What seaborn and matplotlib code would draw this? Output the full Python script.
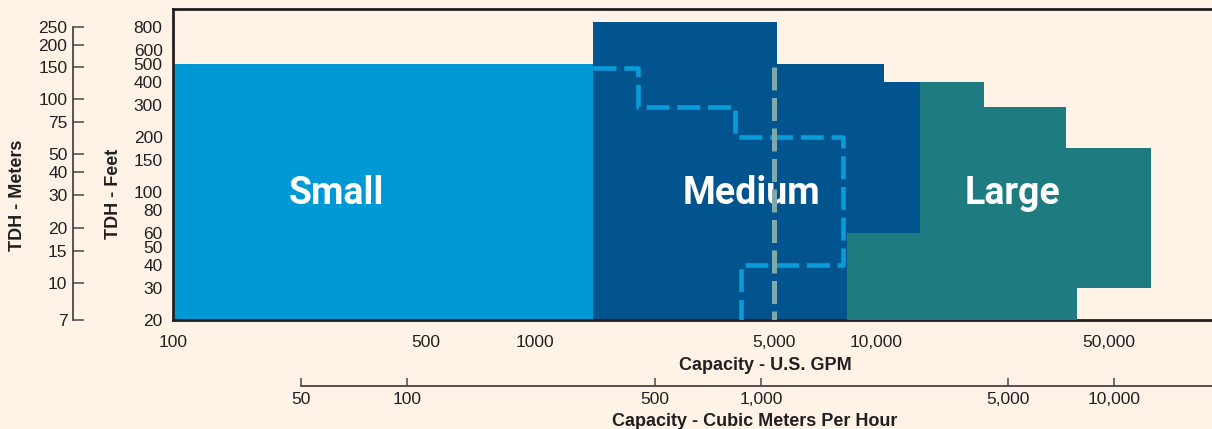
import numpy as np
import matplotlib
matplotlib.use("Agg")
import matplotlib.pyplot as plt
import seaborn as sns
from matplotlib import font_manager
from matplotlib.ticker import NullLocator

# ---------------- data ----------------
gpm_ticks = [100, 500, 1000, 5000, 10000, 50000]
gpm_tick_labels = ["100", "500", "1000", "5,000", "10,000", "50,000"]
m3h_ticks = [50, 100, 500, 1000, 5000, 10000]
m3h_tick_labels = ["50", "100", "500", "1,000", "5,000", "10,000"]
feet_ticks = [20, 30, 40, 50, 60, 80, 100, 150, 200, 300, 400, 500, 600, 800]
meter_ticks = [7, 10, 15, 20, 30, 40, 50, 75, 100, 150, 200, 250]

small_x = [100, 1480]
small_bottom = [20, 20]
small_top = [500, 500]

medium_x = [1480, 5100, 10500, 13500]
medium_bottom = [20, 20, 20, 20]
medium_top = [850, 500, 400, 400]

large_x = [8200, 13500, 21000, 37000, 40000, 67000]
large_bottom = [20, 20, 20, 20, 30, 30]
large_top = [60, 400, 290, 175, 175, 175]

split_case_x = [1480, 2000, 2000, 3850, 3850, 8000, 8000, 4000, 4000]
split_case_y = [475, 475, 290, 290, 200, 200, 40, 40, 20]

vertical_x = [5000, 5000]
vertical_y = [480, 20]

size_labels = ["Small", "Medium", "Large"]
size_label_x = [282, 4315, 25700]
size_label_y = [98, 98, 98]

# ---------------- style ----------------
BG = "#FEF3E6"
INK = "#231F20"
C_SMALL = "#0099D6"
C_MED = "#02548F"
C_LARGE = "#1E7B7F"
C_DASH = "#0A9BDA"
C_GRAY = "#7FA9AA"

sns.set_theme(style="white")
plt.rcParams["font.family"] = ["Liberation Sans", "DejaVu Sans"]
plt.rcParams["axes.facecolor"] = BG
plt.rcParams["figure.facecolor"] = BG

available = {f.name for f in font_manager.fontManager.ttflist}
big_font = "Roboto" if "Roboto" in available else "Liberation Sans"

W, H = 1212, 429


def px_rect(left, top, right, bottom):
    return [left / W, 1 - bottom / H, (right - left) / W, (bottom - top) / H]


def piecewise_log(vals, pos):
    lv = np.log10(np.asarray(vals, float))
    p = np.asarray(pos, float)
    s0 = (p[1] - p[0]) / (lv[1] - lv[0])
    s1 = (p[-1] - p[-2]) / (lv[-1] - lv[-2])

    def fwd(x):
        l = np.log10(np.clip(np.asarray(x, float), 1e-300, None))
        out = np.interp(l, lv, p)
        out = np.where(l < lv[0], p[0] + (l - lv[0]) * s0, out)
        out = np.where(l > lv[-1], p[-1] + (l - lv[-1]) * s1, out)
        return out

    def inv(y):
        y = np.asarray(y, float)
        l = np.interp(y, p, lv)
        l = np.where(y < p[0], lv[0] + (y - p[0]) / s0, l)
        l = np.where(y > p[-1], lv[-1] + (y - p[-1]) / s1, l)
        return 10 ** l

    return fwd, inv


fig = plt.figure(figsize=(W / 100, H / 100), dpi=100)
fig.patch.set_facecolor(BG)

# ---------------- main axes (GPM vs feet) ----------------
ax = fig.add_axes(px_rect(173, 9, 1240, 320))
ax.set_facecolor(BG)
gfwd, ginv = piecewise_log([100, 1000, 10000, 50000], [173, 535, 876.5, 1109])
ax.set_xscale("function", functions=(gfwd, ginv))
ax.set_yscale("log")

ax.fill_between(small_x, small_bottom, small_top, step="post",
                color=C_SMALL, lw=0, zorder=2)
ax.fill_between(medium_x, medium_bottom, medium_top, step="post",
                color=C_MED, lw=0, zorder=2)
ax.fill_between(large_x, large_bottom, large_top, step="post",
                color=C_LARGE, lw=0, zorder=3)

sns.lineplot(x=split_case_x, y=split_case_y, sort=False, estimator=None, ax=ax,
             color=C_DASH, lw=3.3, linestyle=(0, (5.0, 1.7)), zorder=5)
sns.lineplot(x=vertical_x, y=vertical_y, sort=False, estimator=None, ax=ax,
             color=C_GRAY, lw=3.6, linestyle=(0, (4.6, 1.5)), zorder=6)

for lab, lx, ly in zip(size_labels, size_label_x, size_label_y):
    ax.text(lx, ly, lab, color="white", fontsize=27, fontweight="bold",
            family=big_font, ha="center", va="center", zorder=4)

ax.set_xlim(100, float(ginv(1240)))
ax.set_ylim(20, 1000)
ax.set_xticks(gpm_ticks, gpm_tick_labels)
ax.set_yticks(feet_ticks, [str(v) for v in feet_ticks])
ax.xaxis.set_minor_locator(NullLocator())
ax.yaxis.set_minor_locator(NullLocator())
ax.tick_params(axis="both", length=0, labelsize=12.5, colors=INK)
ax.tick_params(axis="x", pad=10.5)
ax.tick_params(axis="y", pad=7.5)
for side in ["top", "left", "bottom"]:
    ax.spines[side].set_color(INK)
    ax.spines[side].set_linewidth(2.0)
    ax.spines[side].set_visible(True)
ax.spines["right"].set_visible(False)
ax.grid(False)

ax.set_xlabel("Capacity - U.S. GPM", fontsize=13, fontweight="bold", color=INK,
              va="center")
ax.xaxis.set_label_coords((765 - 173) / 1067, (320 - 365) / 311)
ax.set_ylabel("TDH - Feet", fontsize=13, fontweight="bold", color=INK,
              va="center")
ax.yaxis.set_label_coords((113 - 173) / 1067, (320 - 194) / 311)

# ---------------- meters axis ----------------
axm = fig.add_axes(px_rect(73, 9, 93, 320))
axm.patch.set_alpha(0)
mfwd, minv = piecewise_log([7, 10, 100, 250], [0, 37, 221, 292.7])
axm.set_yscale("function", functions=(mfwd, minv))
axm.set_ylim(7, float(minv(311)))
axm.set_yticks(meter_ticks, [str(v) for v in meter_ticks])
axm.yaxis.set_minor_locator(NullLocator())
axm.set_xticks([])
for side in ["top", "right", "bottom"]:
    axm.spines[side].set_visible(False)
axm.spines["left"].set_visible(True)
axm.spines["left"].set_color("#4A4646")
axm.spines["left"].set_linewidth(1.3)
axm.spines["left"].set_bounds(7, 250)
axm.tick_params(axis="y", left=True, direction="in", length=8, width=1.1,
                color="#4A4646", labelsize=12.5, labelcolor=INK, pad=4)
axm.set_ylabel("TDH - Meters", fontsize=13, fontweight="bold", color=INK,
               va="center")
axm.yaxis.set_label_coords((17.5 - 73) / 20, (320 - 195) / 311)

# ---------------- cubic meters per hour axis ----------------
axc = fig.add_axes(px_rect(301, 376, 1240, 386))
axc.patch.set_alpha(0)
axc.set_xscale("log")
xr = 50 * 10 ** ((1240 - 301) / 353.5)
axc.set_xlim(50, xr)
axc.set_xticks(m3h_ticks, m3h_tick_labels)
axc.xaxis.set_minor_locator(NullLocator())
axc.set_yticks([])
for side in ["top", "right", "left"]:
    axc.spines[side].set_visible(False)
axc.spines["bottom"].set_visible(True)
axc.spines["bottom"].set_color("#4A4646")
axc.spines["bottom"].set_linewidth(1.3)
axc.tick_params(axis="x", bottom=True, direction="in", length=5.5, width=1.1,
                color="#4A4646", labelsize=12.5, labelcolor=INK, pad=4.5)
axc.set_xlabel("Capacity - Cubic Meters Per Hour", fontsize=13, fontweight="bold",
               color=INK, va="center")
axc.xaxis.set_label_coords((755 - 301) / 939, (386 - 422) / 10)

fig.savefig("out.png", dpi=100, facecolor=BG)
